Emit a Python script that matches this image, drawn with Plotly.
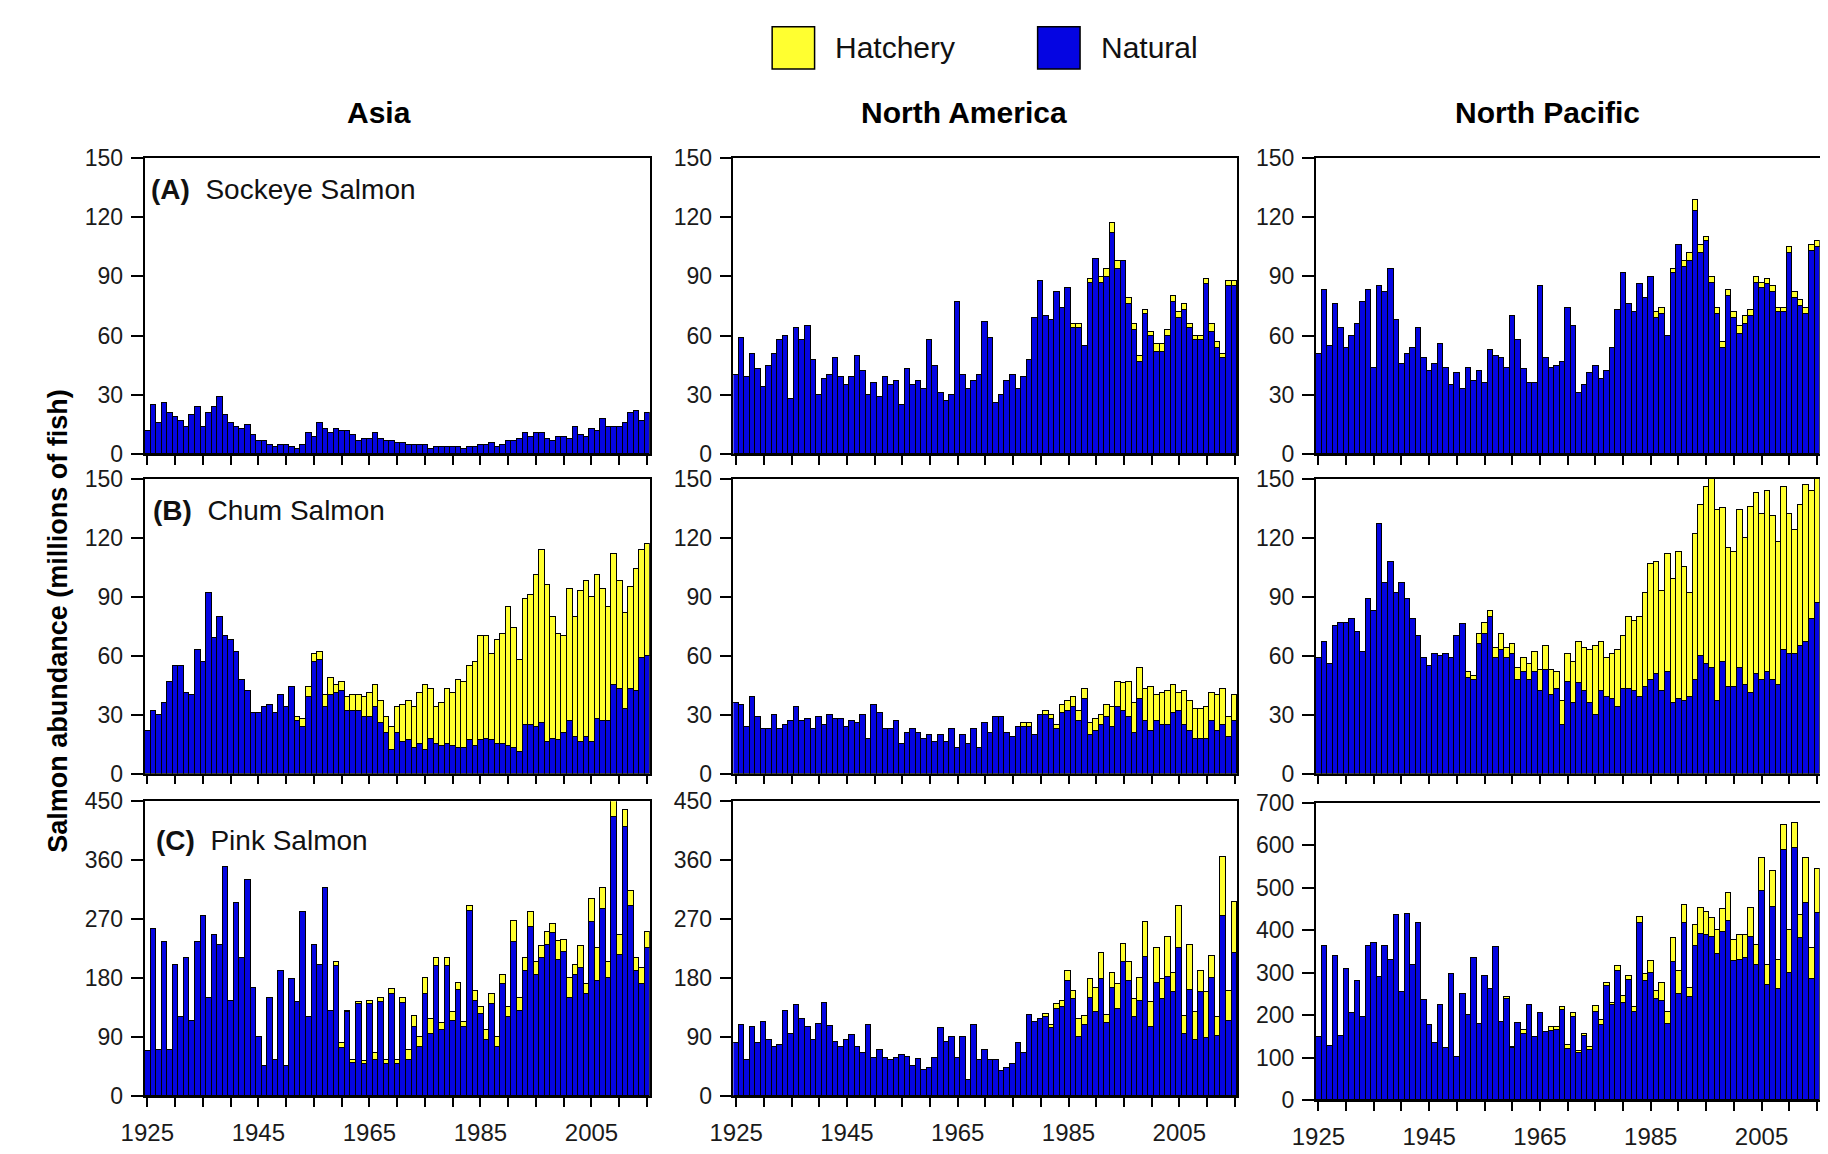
import plotly.graph_objects as go
from plotly.subplots import make_subplots

years = list(range(1925, 2016))

# ---------------- Sockeye ----------------
asia_sockeye_natural = [
    12, 25, 16, 26, 21, 19, 17, 14, 20, 24,
    14, 21, 24, 29, 20, 16, 14, 13, 15, 10,
    7, 7, 5, 4, 5, 5, 4, 3, 5, 11,
    9, 16, 13, 11, 13, 12, 12, 10, 7, 8,
    8, 11, 8, 7, 7, 6, 6, 5, 5, 5,
    5, 3, 4, 4, 4, 4, 4, 3, 4, 4,
    5, 5, 6, 4, 5, 7, 7, 8, 11, 9,
    11, 11, 8, 7, 9, 9, 8, 14, 10, 9,
    13, 12, 18, 14, 14, 14, 16, 21, 22, 17,
    21]
asia_sockeye_hatchery = [
    0, 0, 0, 0, 0, 0, 0, 0, 0, 0,
    0, 0, 0, 0, 0, 0, 0, 0, 0, 0,
    0, 0, 0, 0, 0, 0, 0, 0, 0, 0,
    0, 0, 0, 0, 0, 0, 0, 0, 0, 0,
    0, 0, 0, 0, 0, 0, 0, 0, 0, 0,
    0, 0, 0, 0, 0, 0, 0, 0, 0, 0,
    0, 0, 0, 0, 0, 0, 0, 0, 0, 0,
    0, 0, 0, 0, 0, 0, 0, 0, 0, 0,
    0, 0, 0, 0, 0, 0, 0, 0, 0, 0,
    0]
na_sockeye_natural = [
    40, 59, 39, 51, 43, 34, 45, 51, 58, 60,
    28, 64, 58, 65, 48, 30, 38, 40, 49, 39,
    35, 39, 50, 42, 30, 36, 29, 39, 35, 37,
    25, 43, 35, 37, 33, 58, 45, 31, 27, 30,
    77, 40, 33, 37, 40, 67, 59, 26, 30, 37,
    40, 33, 39, 48, 69, 88, 70, 68, 82, 74,
    84, 64, 64, 55, 87, 99, 87, 90, 112, 94,
    98, 76, 63, 47, 71, 60, 52, 52, 60, 77,
    69, 73, 64, 58, 58, 86, 62, 54, 49, 85,
    85]
na_sockeye_hatchery = [
    0, 0, 0, 0, 0, 0, 0, 0, 0, 0,
    0, 0, 0, 0, 0, 0, 0, 0, 0, 0,
    0, 0, 0, 0, 0, 0, 0, 0, 0, 0,
    0, 0, 0, 0, 0, 0, 0, 0, 0, 0,
    0, 0, 0, 0, 0, 0, 0, 0, 0, 0,
    0, 0, 0, 0, 0, 0, 0, 0, 0, 0,
    0, 2, 2, 0, 2, 0, 3, 4, 5, 4,
    0, 3, 3, 3, 2, 2, 4, 4, 3, 3,
    3, 3, 2, 2, 2, 3, 4, 3, 2, 3,
    3]
np_sockeye_natural = [
    51, 83, 55, 76, 64, 54, 60, 66, 77, 83,
    44, 85, 82, 94, 68, 46, 51, 54, 64, 49,
    42, 46, 56, 44, 35, 41, 33, 44, 37, 42,
    36, 53, 50, 49, 44, 70, 58, 43, 36, 36,
    85, 49, 44, 45, 47, 74, 65, 31, 35, 41,
    45, 38, 42, 54, 73, 92, 76, 72, 86, 79,
    90, 69, 71, 60, 92, 106, 95, 98, 123, 102,
    108, 87, 71, 54, 80, 69, 61, 66, 70, 87,
    84, 86, 82, 72, 72, 102, 79, 75, 71, 103,
    105]
np_sockeye_hatchery = [
    0, 0, 0, 0, 0, 0, 0, 0, 0, 0,
    0, 0, 0, 0, 0, 0, 0, 0, 0, 0,
    0, 0, 0, 0, 0, 0, 0, 0, 0, 0,
    0, 0, 0, 0, 0, 0, 0, 0, 0, 0,
    0, 0, 0, 0, 0, 0, 0, 0, 0, 0,
    0, 0, 0, 0, 0, 0, 0, 0, 0, 0,
    0, 3, 3, 0, 2, 0, 3, 4, 6, 4,
    2, 3, 3, 3, 3, 3, 4, 4, 3, 3,
    3, 3, 3, 2, 2, 3, 3, 3, 3, 3,
    3]

# ---------------- Chum ----------------
asia_chum_natural = [
    22, 32, 30, 36, 47, 55, 55, 41, 40, 63,
    57, 92, 69, 80, 70, 68, 62, 48, 42, 31,
    31, 34, 35, 31, 40, 34, 44, 27, 24, 39,
    57, 58, 34, 40, 41, 42, 32, 32, 32, 29,
    29, 34, 26, 21, 12, 21, 16, 17, 13, 15,
    12, 18, 15, 14, 15, 14, 13, 13, 17, 14,
    17, 18, 17, 15, 15, 14, 13, 11, 25, 25,
    24, 26, 16, 18, 17, 21, 27, 19, 16, 19,
    16, 28, 27, 27, 45, 43, 33, 43, 42, 59,
    60]
asia_chum_hatchery = [
    0, 0, 0, 0, 0, 0, 0, 0, 0, 0,
    0, 0, 0, 0, 0, 0, 0, 0, 0, 0,
    0, 0, 0, 0, 0, 0, 0, 2, 4, 5,
    4, 4, 6, 9, 4, 5, 7, 8, 8, 10,
    12, 11, 11, 8, 12, 13, 19, 20, 21, 26,
    33, 25, 19, 22, 28, 27, 35, 34, 38, 43,
    53, 52, 44, 53, 56, 71, 61, 47, 64, 66,
    77, 88, 80, 62, 54, 49, 67, 61, 77, 79,
    74, 73, 67, 58, 67, 55, 49, 52, 62, 55,
    57]
na_chum_natural = [
    36, 35, 24, 39, 29, 23, 23, 30, 23, 25,
    27, 34, 27, 28, 23, 29, 25, 30, 28, 28,
    24, 27, 26, 30, 18, 35, 31, 23, 23, 27,
    15, 21, 23, 21, 18, 20, 16, 20, 16, 23,
    13, 20, 15, 23, 13, 26, 21, 29, 29, 21,
    19, 24, 24, 24, 20, 30, 30, 28, 23, 31,
    32, 34, 27, 38, 20, 22, 25, 29, 24, 34,
    32, 29, 21, 38, 27, 22, 27, 25, 25, 31,
    32, 25, 22, 18, 18, 18, 27, 22, 25, 19,
    27]
na_chum_hatchery = [
    0, 0, 0, 0, 0, 0, 0, 0, 0, 0,
    0, 0, 0, 0, 0, 0, 0, 0, 0, 0,
    0, 0, 0, 0, 0, 0, 0, 0, 0, 0,
    0, 0, 0, 0, 0, 0, 0, 0, 0, 0,
    0, 0, 0, 0, 0, 0, 0, 0, 0, 0,
    0, 0, 2, 2, 0, 0, 2, 2, 2, 4,
    5, 5, 5, 5, 6, 6, 5, 6, 10, 13,
    14, 18, 15, 16, 16, 22, 13, 16, 17, 14,
    9, 17, 15, 15, 15, 16, 14, 18, 18, 10,
    13]
np_chum_natural = [
    59, 67, 56, 75, 77, 77, 79, 72, 62, 89,
    83, 127, 97, 108, 92, 97, 89, 79, 70, 59,
    55, 61, 60, 61, 59, 70, 76, 49, 48, 66,
    71, 80, 59, 63, 59, 61, 48, 52, 48, 52,
    42, 53, 40, 43, 25, 47, 36, 46, 42, 36,
    30, 42, 39, 38, 34, 43, 43, 42, 39, 44,
    48, 51, 42, 52, 36, 38, 37, 39, 48, 60,
    56, 54, 37, 57, 44, 44, 54, 45, 41, 51,
    48, 52, 48, 45, 63, 61, 61, 65, 67, 79,
    87]
np_chum_hatchery = [
    0, 0, 0, 0, 0, 0, 0, 0, 0, 0,
    0, 0, 0, 0, 0, 0, 0, 0, 0, 0,
    0, 0, 0, 0, 0, 0, 0, 3, 2, 5,
    6, 3, 5, 8, 5, 5, 6, 7, 8, 10,
    11, 12, 13, 9, 12, 14, 21, 21, 22, 27,
    35, 25, 20, 23, 29, 27, 37, 36, 41, 48,
    59, 57, 51, 60, 63, 75, 68, 53, 74, 77,
    90, 104, 97, 78, 71, 69, 80, 75, 95, 92,
    84, 92, 83, 73, 83, 71, 63, 72, 80, 65,
    68]

# ---------------- Pink ----------------
asia_pink_natural = [
    68, 255, 70, 235, 70, 200, 120, 210, 115, 235,
    275, 150, 245, 230, 350, 145, 295, 210, 330, 165,
    90, 45, 150, 55, 190, 45, 178, 143, 280, 120,
    230, 200, 318, 130, 198, 73, 128, 50, 140, 48,
    140, 55, 143, 48, 155, 48, 142, 55, 105, 75,
    155, 95, 198, 100, 198, 115, 162, 105, 282, 145,
    125, 85, 140, 75, 170, 120, 235, 130, 190, 258,
    185, 210, 230, 248, 208, 220, 150, 185, 195, 155,
    265, 175, 285, 180, 425, 215, 410, 290, 190, 170,
    225]
asia_pink_hatchery = [
    0, 0, 0, 0, 0, 0, 0, 0, 0, 0,
    0, 0, 0, 0, 0, 0, 0, 0, 0, 0,
    0, 0, 0, 0, 0, 0, 0, 0, 0, 0,
    0, 0, 0, 0, 7, 7, 2, 5, 3, 5,
    5, 10, 7, 7, 8, 7, 8, 15, 17, 15,
    25, 23, 12, 12, 12, 13, 10, 8, 8, 15,
    10, 15, 15, 15, 15, 15, 32, 20, 20, 22,
    20, 18, 20, 14, 29, 18, 30, 15, 33, 15,
    35, 50, 33, 25, 25, 30, 27, 23, 20, 25,
    25]
na_pink_natural = [
    80, 108, 55, 105, 80, 113, 85, 75, 78, 130,
    95, 138, 118, 105, 85, 110, 142, 107, 82, 75,
    85, 93, 75, 65, 108, 58, 70, 58, 55, 58,
    62, 60, 45, 57, 40, 43, 58, 103, 83, 90,
    58, 90, 25, 108, 55, 70, 55, 55, 38, 43,
    48, 80, 65, 123, 113, 118, 120, 103, 132, 135,
    175, 148, 90, 108, 150, 128, 178, 112, 165, 133,
    205, 175, 120, 145, 212, 105, 173, 148, 182, 158,
    225, 95, 162, 85, 158, 88, 180, 92, 275, 115,
    218]
na_pink_hatchery = [
    0, 0, 0, 0, 0, 0, 0, 0, 0, 0,
    0, 0, 0, 0, 0, 0, 0, 0, 0, 0,
    0, 0, 0, 0, 0, 0, 0, 0, 0, 0,
    0, 0, 0, 0, 0, 0, 0, 0, 0, 0,
    0, 0, 0, 0, 0, 0, 0, 0, 0, 0,
    0, 0, 0, 0, 0, 0, 5, 5, 8, 10,
    15, 12, 28, 14, 28, 37, 40, 11, 23, 37,
    27, 30, 28, 35, 53, 38, 52, 30, 60, 30,
    65, 27, 68, 43, 32, 70, 33, 28, 90, 45,
    78]
np_pink_natural = [
    148, 362, 127, 340, 152, 310, 205, 280, 195, 362,
    370, 290, 362, 330, 435, 255, 438, 318, 418, 237,
    178, 135, 225, 123, 297, 102, 250, 200, 335, 180,
    292, 262, 360, 185, 238, 122, 182, 155, 225, 148,
    205, 160, 162, 165, 213, 120, 195, 110, 150, 118,
    208, 178, 268, 225, 305, 228, 283, 208, 418, 280,
    300, 238, 233, 180, 325, 250, 418, 242, 362, 392,
    390, 385, 345, 395, 422, 328, 330, 335, 385, 318,
    493, 272, 455, 262, 590, 300, 595, 383, 465, 285,
    442]
np_pink_hatchery = [
    0, 0, 0, 0, 0, 0, 0, 0, 0, 0,
    0, 0, 0, 0, 0, 0, 0, 0, 0, 0,
    0, 0, 0, 0, 0, 0, 0, 0, 0, 0,
    0, 0, 0, 0, 4, 3, 0, 10, 0, 0,
    0, 0, 10, 7, 7, 10, 10, 5, 7, 7,
    14, 10, 9, 5, 10, 17, 10, 12, 14, 18,
    28, 20, 42, 28, 58, 55, 42, 23, 50, 60,
    53, 43, 55, 55, 65, 50, 60, 55, 67, 47,
    77, 46, 85, 68, 58, 100, 57, 52, 105, 73,
    103]

region_titles = ["Asia", "North America", "North Pacific"]
species_labels = ["(A)", "(B)", "(C)"]
species_names = ["Sockeye Salmon", "Chum Salmon", "Pink Salmon"]
legend_names = ["Hatchery", "Natural"]
y_title = "Salmon abundance (millions of fish)"

x_tickvals = [1925, 1930, 1935, 1940, 1945, 1950, 1955, 1960, 1965, 1970,
              1975, 1980, 1985, 1990, 1995, 2000, 2005, 2010, 2015]
x_ticktext = ["1925", "", "", "", "1945", "", "", "", "1965", "",
              "", "", "1985", "", "", "", "2005", "", ""]
y_ticks_150 = [0, 30, 60, 90, 120, 150]
y_ticks_450 = [0, 90, 180, 270, 360, 450]
y_ticks_700 = [0, 100, 200, 300, 400, 500, 600, 700]

panels = [
    [(asia_sockeye_natural, asia_sockeye_hatchery, y_ticks_150),
     (na_sockeye_natural, na_sockeye_hatchery, y_ticks_150),
     (np_sockeye_natural, np_sockeye_hatchery, y_ticks_150)],
    [(asia_chum_natural, asia_chum_hatchery, y_ticks_150),
     (na_chum_natural, na_chum_hatchery, y_ticks_150),
     (np_chum_natural, np_chum_hatchery, y_ticks_150)],
    [(asia_pink_natural, asia_pink_hatchery, y_ticks_450),
     (na_pink_natural, na_pink_hatchery, y_ticks_450),
     (np_pink_natural, np_pink_hatchery, y_ticks_700)],
]
for row in panels:
    for nat, hat, _ in row:
        assert len(nat) == len(years) and len(hat) == len(years)

BLUE = "#0505E2"
YELLOW = "#FFFF30"
FONT = "Liberation Sans, Arial, Helvetica, sans-serif"
W, H = 1828, 1154

col_px = [(114.0, 626.0), (710.7, 1221.5), (1300.7, 1811.5)]
row_px = [(140.0, 443.3), (468.3, 770.0), (798.3, 1100.0)]

fig = make_subplots(rows=3, cols=3)

for r in range(3):
    for c in range(3):
        nat, hat, yt = panels[r][c]
        fig.add_trace(go.Bar(x=years, y=nat, width=1,
                             marker=dict(color=BLUE, line=dict(color="black", width=1)),
                             name=legend_names[1], showlegend=False),
                      row=r + 1, col=c + 1)
        fig.add_trace(go.Bar(x=years, y=hat, width=1,
                             marker=dict(color=YELLOW, line=dict(color="black", width=1)),
                             name=legend_names[0], showlegend=False),
                      row=r + 1, col=c + 1)
        idx = r * 3 + c + 1
        xa = "xaxis" if idx == 1 else f"xaxis{idx}"
        ya = "yaxis" if idx == 1 else f"yaxis{idx}"
        x0, x1 = col_px[c]
        y0, y1 = row_px[r]
        if r == 2 and c == 2:
            y0, y1 = 800.0, 1104.0
        fig.layout[xa].update(
            domain=[x0 / W, x1 / W], range=[1924.5, 2015.5],
            tickmode="array", tickvals=x_tickvals, ticktext=x_ticktext,
            showticklabels=(r == 2), ticks="outside", ticklen=9, tickwidth=1.5,
            tickcolor="black", showline=True, linecolor="black", linewidth=1.5,
            mirror=True, showgrid=False, zeroline=False,
            tickfont=dict(family=FONT, size=24, color="#1a1a1a"),
            ticklabelstandoff=5)
        fig.layout[ya].update(
            domain=[1 - y1 / H, 1 - y0 / H], range=[0, yt[-1]],
            tickmode="array", tickvals=yt,
            ticks="outside", ticklen=12, tickwidth=1.5, tickcolor="black",
            showline=True, linecolor="black", linewidth=1.5, mirror=True,
            showgrid=False, zeroline=False,
            tickfont=dict(family=FONT, size=23, color="#1a1a1a"),
            ticklabelstandoff=3)

annotations = []
title_x = [352, 944, 1536]
for c in range(3):
    annotations.append(dict(x=title_x[c] / W, y=1 - 94 / H, xref="paper", yref="paper",
                            text=f"<b>{region_titles[c]}</b>", showarrow=False,
                            xanchor="center", yanchor="middle",
                            font=dict(family=FONT, size=30, color="black")))
label_pos = [(119, 172), (121, 501), (124, 838)]
for r in range(3):
    lx, ly = label_pos[r]
    annotations.append(dict(x=lx / W, y=1 - ly / H, xref="paper", yref="paper",
                            text=f"<b>{species_labels[r]}</b>\u00a0\u00a0{species_names[r]}",
                            showarrow=False, xanchor="left", yanchor="middle",
                            font=dict(family=FONT, size=28, color="#111111")))
annotations.append(dict(x=27 / W, y=1 - 614 / H, xref="paper", yref="paper",
                        text=f"<b>{y_title}</b>", showarrow=False, textangle=-90,
                        xanchor="center", yanchor="middle",
                        font=dict(family=FONT, size=27, color="black")))
# legend text
annotations.append(dict(x=812 / W, y=1 - 27 / H, xref="paper", yref="paper",
                        text=legend_names[0], showarrow=False, xanchor="left", yanchor="middle",
                        font=dict(family=FONT, size=30, color="#111111")))
annotations.append(dict(x=1081 / W, y=1 - 27 / H, xref="paper", yref="paper",
                        text=legend_names[1], showarrow=False, xanchor="left", yanchor="middle",
                        font=dict(family=FONT, size=30, color="#111111")))

shapes = [
    dict(type="rect", xref="paper", yref="paper", x0=750 / W, x1=793 / W,
         y0=1 - 49 / H, y1=1 - 6 / H, fillcolor=YELLOW, line=dict(color="black", width=1.5)),
    dict(type="rect", xref="paper", yref="paper", x0=1019 / W, x1=1062 / W,
         y0=1 - 49 / H, y1=1 - 6 / H, fillcolor=BLUE, line=dict(color="black", width=1.5)),
]

fig.update_layout(
    width=W, height=H, margin=dict(l=0, r=0, t=0, b=0),
    barmode="stack", bargap=0, showlegend=False,
    paper_bgcolor="white", plot_bgcolor="white",
    annotations=annotations, shapes=shapes,
    font=dict(family=FONT, color="black"),
)

fig.write_html("out.html")
